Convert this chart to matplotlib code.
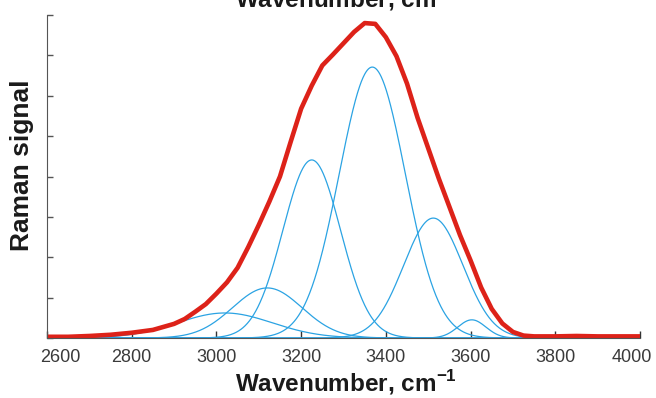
import matplotlib.pyplot as plt
import matplotlib.transforms as mtransforms
import numpy as np

plt.rcParams['font.family'] = ['Liberation Sans', 'DejaVu Sans']
plt.rcParams['mathtext.fontset'] = 'custom'
plt.rcParams['mathtext.rm'] = 'Liberation Sans'
plt.rcParams['mathtext.bf'] = 'Liberation Sans:bold'

wn = [2600, 2650, 2700, 2750, 2800, 2850, 2900, 2925, 2950, 2975, 3000, 3025,
      3050, 3075, 3100, 3125, 3150, 3175, 3200, 3225, 3250, 3275, 3300, 3325,
      3350, 3375, 3400, 3425, 3450, 3475, 3500, 3525, 3550, 3575, 3600, 3625,
      3650, 3675, 3700, 3725, 3750, 3800, 3850, 3900, 3950, 4000]
signal = [0.03, 0.03, 0.05, 0.08, 0.13, 0.2, 0.35, 0.47, 0.65, 0.84, 1.1, 1.38,
          1.74, 2.25, 2.8, 3.38, 4.0, 4.85, 5.68, 6.25, 6.75, 7.02, 7.3, 7.58,
          7.8, 7.78, 7.45, 6.98, 6.3, 5.45, 4.7, 3.95, 3.25, 2.55, 1.92, 1.25,
          0.72, 0.36, 0.15, 0.06, 0.04, 0.04, 0.05, 0.04, 0.04, 0.04]

# Gaussian components of the fit (blue)
centers = [3020, 3120, 3225, 3368, 3512, 3603]
heights = [0.62, 1.24, 4.41, 6.71, 2.97, 0.45]
sigmas = [112, 82, 68, 78, 70, 33]

fig = plt.figure(figsize=(6.56, 3.98), dpi=100)
ax = fig.add_axes([47 / 656, 60 / 398, 593 / 656, 323 / 398])

x = np.linspace(2600, 4000, 1401)
for c, h, s in zip(centers, heights, sigmas):
    ax.plot(x, h * np.exp(-0.5 * ((x - c) / s) ** 2), color='#2ba3e3', lw=0.9)

ax.plot(wn, signal, color='#dd2219', lw=3.3, solid_joinstyle='round')

ax.set_xlim(2600, 4000)
ax.set_ylim(0, 8)
ax.set_xticks(np.arange(2600, 4001, 200))
ax.set_yticks(np.arange(0, 9, 1))
ax.set_yticklabels([])
ax.tick_params(axis='x', direction='in', length=5, width=1, colors='#333333',
               labelsize=13, pad=8)
ax.tick_params(axis='x', labelcolor='#3a3a3a')
ax.tick_params(axis='y', direction='in', length=4, width=1, colors='#555555')
for side in ['top', 'right']:
    ax.spines[side].set_visible(False)
for side in ['left', 'bottom']:
    ax.spines[side].set_color('#555555')

# end labels are pulled inward to fit inside the figure
labels = ax.get_xticklabels()
labels[0].set_transform(labels[0].get_transform() +
                        mtransforms.ScaledTranslation(0.13, 0, fig.dpi_scale_trans))
labels[-1].set_transform(labels[-1].get_transform() +
                         mtransforms.ScaledTranslation(-0.08, 0, fig.dpi_scale_trans))

lab = 'Wavenumber, cm$^{\\mathregular{-1}}$'
fig.text(346 / 656, 7 / 398, lab, fontsize=17.5, color='#1a1a1a',
         ha='center', va='baseline', fontweight='bold')
# cut-off duplicate label at the very top
fig.text(346 / 656, 1 - 7 / 398, lab, fontsize=17.5, color='#1a1a1a',
         ha='center', va='baseline', fontweight='bold')
fig.text(22 / 656, 1 - 165 / 398, 'Raman signal', fontsize=19, color='#1a1a1a',
         rotation=90, ha='center', va='center', fontweight='bold')

fig.savefig('out.png', dpi=100)
